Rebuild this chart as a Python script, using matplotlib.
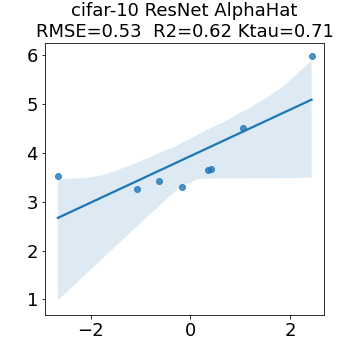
import matplotlib
matplotlib.use("Agg")
import matplotlib.pyplot as plt
import seaborn as sns
import numpy as np

x_vals = [-2.66, -1.07, -0.63, -0.17, 0.35, 0.41, 1.06, 2.43]
y_vals = [3.53, 3.27, 3.42, 3.31, 3.66, 3.68, 4.51, 5.98]
title = "cifar-10 ResNet AlphaHat\nRMSE=0.53  R2=0.62 Ktau=0.71"

fig = plt.figure(figsize=(5, 5), dpi=72)
ax = fig.add_axes([0.125, 0.125, 0.775, 0.755])
sns.regplot(x=np.array(x_vals), y=np.array(y_vals), ax=ax, seed=0)
ax.set_title(title, fontsize=18)
ax.tick_params(labelsize=18)
ax.set_xticks([-2, 0, 2])
ax.set_xticklabels(["\u22122", "0", "2"])
ax.set_xlim(-2.92, 2.68)
ax.set_ylim(0.68, 6.25)
fig.savefig("out.png", dpi=72)
